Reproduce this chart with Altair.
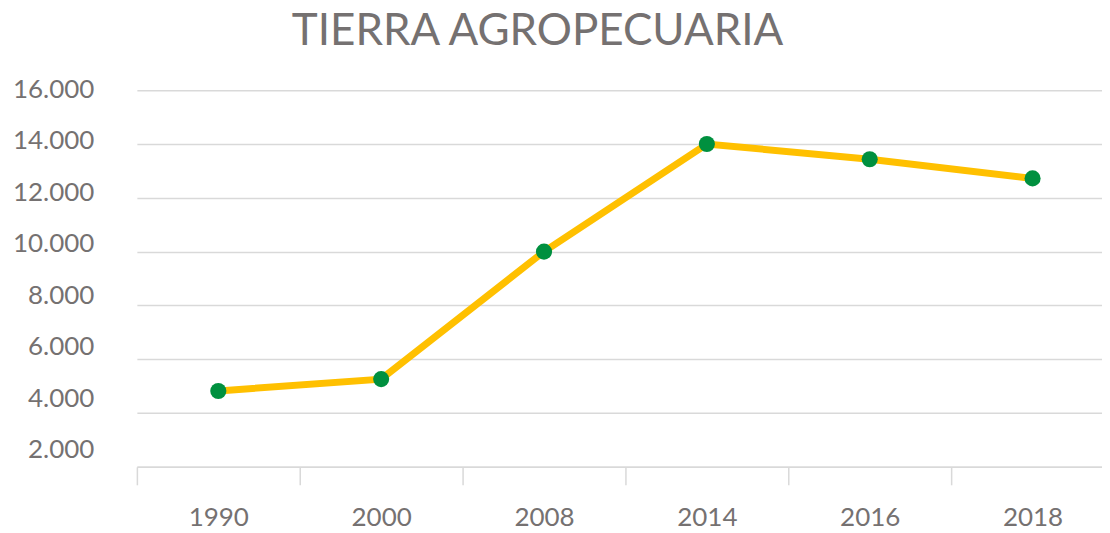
import altair as alt
import pandas as pd

years = ["1990", "2000", "2008", "2014", "2016", "2018"]
values = [4820, 5260, 10000, 14000, 13430, 12720]
y_ticks = [2000, 4000, 6000, 8000, 10000, 12000, 14000, 16000]

df = pd.DataFrame({"year": years, "value": values})

FONT = "Lato"
GRAY = "#757171"
GRID = "#D9D9D9"

x = alt.X(
    "year:N",
    sort=years,
    title=None,
    scale=alt.Scale(type="band", range=[0, 978], paddingInner=0, paddingOuter=0),
    axis=alt.Axis(
        labelAngle=0,
        tickBand="extent",
        domainColor=GRID,
        domainWidth=1.5,
        tickColor=GRID,
        tickWidth=1.5,
        tickSize=18,
        labelPadding=20,
        labelFont=FONT,
        labelFontSize=26,
        labelColor=GRAY,
        grid=False,
    ),
)

y = alt.Y(
    "value:Q",
    title=None,
    scale=alt.Scale(domain=[2000, 16000], nice=False, zero=False),
    axis=alt.Axis(
        values=y_ticks,
        labelExpr="replace(format(datum.value, ','), ',', '.')",
        labelFont=FONT,
        labelFontSize=26,
        labelColor=GRAY,
        labelPadding=43,
        labelOffset={"expr": "-1 - (16000 - datum.value) / 2000 * 2.3"},
        ticks=False,
        domain=False,
        grid=True,
        gridColor=GRID,
        gridWidth=1.5,
    ),
)

base = alt.Chart(df).encode(x=x, y=y)

line = base.mark_line(color="#FFC000", strokeWidth=7)
points = base.mark_circle(color="#00903F", size=260, opacity=1)

chart = (
    alt.layer(line, points)
    .properties(
        width=966,
        height=377,
        title=alt.TitleParams(
            text="TIERRA AGROPECUARIA",
            font=FONT,
            fontSize=44,
            fontWeight="normal",
            color=GRAY,
            anchor="middle",
            dx=-82,
            dy=13,
            offset=0,
            baseline="alphabetic",
        ),
        autosize=alt.AutoSizeParams(type="none"),
        padding={"left": 129, "top": 82, "right": 0, "bottom": 66},
    )
    .configure_view(stroke=None)
)

chart.save("out.html", embed_options={"renderer": "svg", "actions": False})
